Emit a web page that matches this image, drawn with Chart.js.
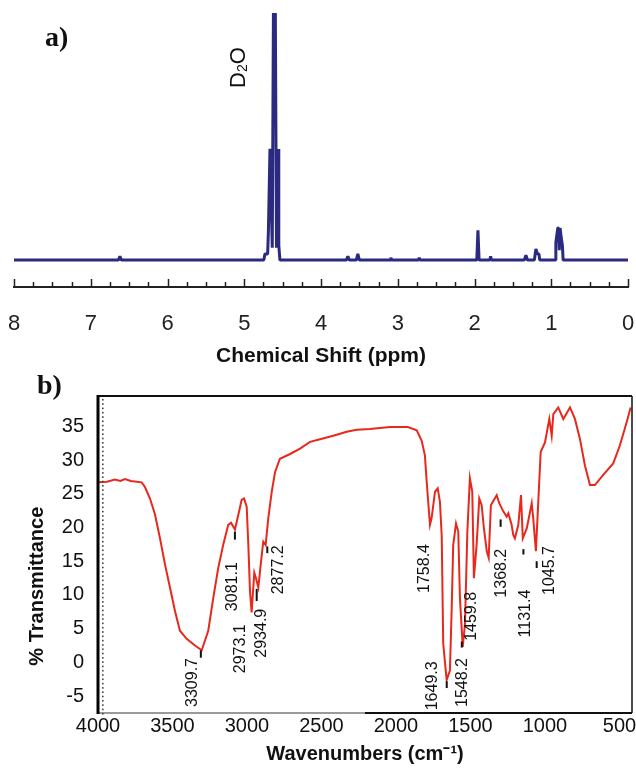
<!DOCTYPE html>
<html>
<head>
<meta charset="utf-8">
<title>1H NMR and FTIR spectra</title>
<script src="https://cdn.jsdelivr.net/npm/chart.js@4.4.1/dist/chart.umd.min.js"></script>
<style>
  html, body { margin: 0; padding: 0; background: #fff; }
  #wrap { position: relative; width: 636px; height: 769px; }
  #nmrChart { position: absolute; left: 0; top: 0; }
  #irChart { position: absolute; left: 0; top: 370px; }
</style>
</head>
<body>
<div id="wrap">
  <canvas id="nmrChart" width="636" height="370"></canvas>
  <canvas id="irChart" width="636" height="399"></canvas>
</div>
<script>
// ---- panel a: 1H NMR ----
const nmrShift = [8.0, 6.64, 6.62, 6.60, 4.80, 4.745, 4.73, 4.695, 4.685, 4.665, 4.635, 4.62, 4.595, 4.58, 4.56, 4.55, 4.535,
  3.67, 3.65, 3.63, 3.54, 3.52, 3.50, 3.10, 3.09, 3.08, 2.73, 2.72, 2.71, 1.97, 1.955, 1.94, 1.80, 1.79, 1.78,
  1.35, 1.33, 1.31, 1.22, 1.20, 1.18, 1.16, 1.15, 0.95, 0.94, 0.915, 0.905, 0.895, 0.885, 0.87, 0.855, 0.845, 0.0];
const nmrIntensity = [0, 0, 1.5, 0, 0, 0, 2.5, 2.5, 12, 45, 5, 100, 100, 5, 45, 6, 0,
  0, 1.5, 0, 0, 2.5, 0, 0, 1, 0, 0, 1, 0, 0, 12, 0, 0, 1.5, 0,
  0, 2, 0, 0, 4.5, 2.5, 2.5, 0, 0, 7, 13, 13, 4, 13, 9, 6, 0, 0];
const nmrMajorTicks = [8, 7, 6, 5, 4, 3, 2, 1, 0];
const nmrMinorStep = 0.25;
const d2oShift = 4.605;

// ---- panel b: FTIR ----
const irWavenumber = [4000, 3940, 3886, 3850, 3819, 3780, 3707, 3685, 3651, 3617, 3584, 3550, 3517, 3483, 3450, 3405, 3349, 3304,
  3260, 3226, 3193, 3159, 3126, 3107, 3081, 3058, 3036, 3020, 3002, 2991, 2980, 2969, 2951, 2940, 2924, 2908, 2891, 2875,
  2857, 2834, 2812, 2779, 2711, 2644, 2577, 2510, 2421, 2331, 2264, 2175, 2040, 1920, 1861, 1828, 1806, 1794, 1772, 1761,
  1738, 1720, 1705, 1693, 1683, 1660, 1638, 1626, 1616, 1597, 1582, 1571, 1552, 1537, 1521, 1504, 1488, 1477, 1459, 1441,
  1425, 1410, 1391, 1378, 1363, 1342, 1324, 1307, 1280, 1257, 1246, 1224, 1213, 1202, 1179, 1161, 1149, 1122, 1089, 1079,
  1061, 1045, 1029, 1000, 971, 955, 944, 911, 877, 832, 799, 765, 732, 698, 665, 609, 542, 497, 452, 425];
const irTransmittance = [26.7, 26.8, 27.1, 26.9, 27.2, 26.9, 26.7, 26.0, 24.3, 21.9, 18.4, 14.5, 11.1, 7.6, 4.7, 3.5, 2.5, 1.8,
  4.7, 9.6, 14.0, 17.5, 20.4, 20.7, 19.7, 21.9, 24.1, 24.3, 23.1, 17.4, 10.6, 7.4, 13.3, 12.5, 11.1, 14.5, 17.9, 17.4,
  21.4, 25.3, 28.2, 30.2, 30.9, 31.7, 32.7, 33.1, 33.6, 34.2, 34.5, 34.6, 34.9, 34.9, 34.4, 32.9, 30.7, 26.8, 20.4, 21.4,
  25.3, 25.8, 23.8, 18.7, 2.8, -2.6, -1.2, 8.1, 17.4, 20.6, 19.4, 9.6, 2.3, 5.7, 19.4, 27.3, 25.3, 12.5, 17.4, 24.3,
  23.3, 19.9, 16.5, 15.5, 23.3, 24.1, 24.8, 23.6, 22.4, 21.6, 22.1, 20.4, 18.9, 18.4, 20.4, 24.8, 18.4, 19.9, 23.6, 21.4,
  16.5, 23.8, 31.2, 32.6, 36.1, 33.6, 36.8, 37.8, 36.1, 37.8, 36.1, 33.1, 29.2, 26.3, 26.3, 27.8, 29.5, 32.2, 35.6, 37.8];
const irXTicks = [4000, 3500, 3000, 2500, 2000, 1500, 1000, 500];
const irYTicks = [-5, 0, 5, 10, 15, 20, 25, 30, 35];
const irPeakLabels = ['3309.7', '3081.1', '2973.1', '2934.9', '2877.2', '1758.4', '1649.3', '1548.2', '1459.8', '1368.2', '1131.4', '1045.7'];

// where each peak label sits: text offset (px), text foot (%T), marker span (%T) and marker offset (px)
const irPeakLayout = [
  { dx: -8, foot: -6.6, mark: [1.8, 0.7], mdx: 0 },
  { dx: -2, foot: 7.6, mark: [19.4, 18.2], mdx: 0 },
  { dx: -10, foot: -1.6, mark: null, mdx: 0 },
  { dx: 5, foot: 0.7, mark: [10.9, 9.1], mdx: 0 },
  { dx: 13, foot: 10.1, mark: [17.2, 16.2], mdx: 2 },
  { dx: -7, foot: 10.3, mark: null, mdx: 0 },
  { dx: -16, foot: -7.1, mark: [-2.8, -3.8], mdx: -1.5 },
  { dx: -1, foot: -6.6, mark: [3.1, 2.2], mdx: -1.5 },
  { dx: -4.5, foot: 3.2, mark: null, mdx: 0 },
  { dx: 11, foot: 9.6, mark: [21.2, 20.1], mdx: 10.5 },
  { dx: 0, foot: 3.7, mark: [16.8, 16.0], mdx: -2 },
  { dx: 11, foot: 10.0, mark: [15.0, 14.0], mdx: -1.5 }
];

const sans = '"Liberation Sans", Arial, sans-serif';

// keep the plot edges where the layout padding puts them
function fixAxisBox(height) {
    return s => {
        s.height = height;
        s.paddingLeft = 0;
        s.paddingRight = 0;
    };
}

const panelLetter = {
  id: 'panelLetter',
  afterDraw(chart, args, opts) {
    const ctx = chart.ctx;
    ctx.save();
    ctx.font = 'bold 28px "Liberation Serif", "Times New Roman", serif';
    ctx.fillStyle = '#111';
    ctx.textBaseline = 'middle';
    ctx.fillText(opts.text, opts.x, opts.y);
    ctx.restore();
  }
};

// small upward tick marks on the ppm axis
const nmrTickMarks = {
  id: 'nmrTickMarks',
  afterDraw(chart) {
    const { ctx, chartArea, scales: { x } } = chart;
    ctx.save();
    ctx.strokeStyle = '#222';
    ctx.lineWidth = 1.5;
    x.ticks.forEach(t => {
      const px = Math.round(x.getPixelForValue(t.value)) + 0.5;
      const len = nmrMajorTicks.includes(t.value) ? 8 : 5;
      ctx.beginPath();
      ctx.moveTo(px, chartArea.bottom);
      ctx.lineTo(px, chartArea.bottom - len);
      ctx.stroke();
    });
    ctx.restore();
  }
};

const d2oLabel = {
  id: 'd2oLabel',
  afterDraw(chart) {
    const { ctx, scales: { x } } = chart;
    ctx.save();
    ctx.translate(x.getPixelForValue(d2oShift) - 36, 88);
    ctx.rotate(-Math.PI / 2);
    ctx.fillStyle = '#111';
    ctx.textBaseline = 'middle';
    ctx.font = '22px ' + sans;
    ctx.fillText('D', 0, 0);
    let w = ctx.measureText('D').width;
    ctx.font = '14px ' + sans;
    ctx.fillText('2', w, 5);
    w += ctx.measureText('2').width;
    ctx.font = '22px ' + sans;
    ctx.fillText('O', w, 0);
    ctx.restore();
  }
};

// box round the IR plot, dotted line inside the left edge
const irFrame = {
  id: 'irFrame',
  afterDatasetsDraw(chart) {
    const { ctx, chartArea: a } = chart;
    const mid = a.left + (a.right - a.left) * 0.5;
    ctx.save();
    ctx.strokeStyle = '#111';
    ctx.lineWidth = 2;
    ctx.beginPath();
    ctx.moveTo(a.left, a.top); ctx.lineTo(a.right, a.top);
    ctx.moveTo(mid, a.bottom); ctx.lineTo(a.right, a.bottom);
    ctx.stroke();
    ctx.lineWidth = 1.5;
    ctx.beginPath();
    ctx.moveTo(a.right, a.top); ctx.lineTo(a.right, a.bottom);
    ctx.stroke();
    ctx.strokeStyle = '#9a9a9a';
    ctx.lineWidth = 2;
    ctx.beginPath();
    ctx.moveTo(a.left, a.bottom); ctx.lineTo(mid, a.bottom);
    ctx.stroke();
    ctx.strokeStyle = '#000';
    ctx.lineWidth = 3;
    ctx.beginPath();
    ctx.moveTo(a.left, a.top - 1); ctx.lineTo(a.left, a.bottom + 1);
    ctx.stroke();
    ctx.fillStyle = '#444';
    for (let y = a.top + 3; y < a.bottom; y += 4.3) {
      ctx.fillRect(a.left + 4, y, 1.6, 1.6);
    }
    // y-axis title sits a little below the middle in the original
    ctx.translate(a.left - 61, a.top + (a.bottom - a.top) * 0.6);
    ctx.rotate(-Math.PI / 2);
    ctx.fillStyle = '#111';
    ctx.font = 'bold 20px ' + sans;
    ctx.textAlign = 'center';
    ctx.textBaseline = 'middle';
    ctx.fillText('% Transmittance', 0, 0);
    ctx.restore();
  }
};

const irPeakNotes = {
  id: 'irPeakNotes',
  afterDatasetsDraw(chart) {
    const { ctx, scales: { x, y } } = chart;
    ctx.save();
    irPeakLabels.forEach((label, i) => {
      const pos = irPeakLayout[i];
      const px = x.getPixelForValue(parseFloat(label));
      if (pos.mark) {
        ctx.strokeStyle = '#111';
        ctx.lineWidth = 2;
        ctx.beginPath();
        ctx.moveTo(px + pos.mdx, y.getPixelForValue(pos.mark[0]));
        ctx.lineTo(px + pos.mdx, y.getPixelForValue(pos.mark[1]));
        ctx.stroke();
      }
      ctx.save();
      ctx.translate(px + pos.dx, y.getPixelForValue(pos.foot));
      ctx.rotate(-Math.PI / 2);
      ctx.fillStyle = '#111';
      ctx.font = '16px ' + sans;
      ctx.textAlign = 'left';
      ctx.textBaseline = 'middle';
      ctx.fillText(label, 0, 0);
      ctx.restore();
    });
    ctx.restore();
  }
};

document.addEventListener('DOMContentLoaded', function() {
    // NMR spectrum
    const nmrCtx = document.getElementById('nmrChart').getContext('2d');
    new Chart(nmrCtx, {
        type: 'line',
        data: {
            datasets: [{
                data: nmrShift.map((v, i) => ({ x: v, y: nmrIntensity[i] })),
                borderColor: '#2a2a80',
                borderWidth: 3,
                borderJoinStyle: 'bevel',
                pointRadius: 0,
                tension: 0,
                fill: false
            }]
        },
        options: {
            responsive: false,
            animation: false,
            layout: { padding: { left: 14, right: 8, top: 13, bottom: 0 } },
            scales: {
                x: {
                    type: 'linear',
                    reverse: true,
                    min: 0,
                    max: 8,
                    afterFit: fixAxisBox(83),
                    grid: { display: false, drawTicks: false },
                    border: { display: true, color: '#222', width: 2 },
                    ticks: {
                        stepSize: nmrMinorStep,
                        autoSkip: false,
                        maxRotation: 0,
                        padding: 24,
                        color: '#222',
                        font: { family: sans, size: 22 },
                        callback: v => nmrMajorTicks.includes(v) ? String(v) : ''
                    },
                    title: {
                        display: true,
                        text: 'Chemical Shift (ppm)',
                        color: '#111',
                        font: { family: sans, size: 21, weight: 'bold' },
                        padding: { top: 0, bottom: 1 }
                    }
                },
                y: { display: false, min: -10.9, max: 100 }
            },
            plugins: {
                legend: { display: false },
                tooltip: { enabled: false },
                panelLetter: { text: 'a)', x: 45, y: 39 }
            }
        },
        plugins: [nmrTickMarks, d2oLabel, panelLetter]
    });

    // FTIR spectrum
    const irCtx = document.getElementById('irChart').getContext('2d');
    new Chart(irCtx, {
        type: 'line',
        data: {
            datasets: [{
                data: irWavenumber.map((v, i) => ({ x: v, y: irTransmittance[i] })),
                borderColor: '#e8281d',
                borderWidth: 2,
                pointRadius: 0,
                tension: 0,
                fill: false
            }]
        },
        options: {
            responsive: false,
            animation: false,
            layout: { padding: { left: 0, right: 4, top: 23, bottom: 0 } },
            scales: {
                x: {
                    type: 'linear',
                    reverse: true,
                    min: 416,
                    max: 4000,
                    afterBuildTicks: s => { s.ticks = irXTicks.map(v => ({ value: v })); },
                    afterFit: fixAxisBox(56),
                    grid: { display: false, drawTicks: false },
                    border: { display: false },
                    ticks: {
                        autoSkip: false,
                        maxRotation: 0,
                        padding: 1,
                        color: '#111',
                        font: { family: sans, size: 20 },
                        callback: v => String(v)
                    },
                    title: {
                        display: true,
                        text: 'Wavenumbers (cm\u207B\u00B9)',
                        color: '#111',
                        font: { family: sans, size: 20, weight: 'bold' },
                        padding: { top: 0, bottom: 3 }
                    }
                },
                y: {
                    min: -7.5,
                    max: 39.5,
                    afterBuildTicks: s => { s.ticks = irYTicks.map(v => ({ value: v })); },
                    afterFit: s => { s.width = 98; },
                    grid: { display: false, drawTicks: false },
                    border: { display: false },
                    ticks: {
                        padding: 14,
                        color: '#111',
                        font: { family: sans, size: 20 }
                    }
                }
            },
            plugins: {
                legend: { display: false },
                tooltip: { enabled: false },
                panelLetter: { text: 'b)', x: 37, y: 17 }
            }
        },
        plugins: [irFrame, irPeakNotes, panelLetter]
    });
});
</script>
</body>
</html>
